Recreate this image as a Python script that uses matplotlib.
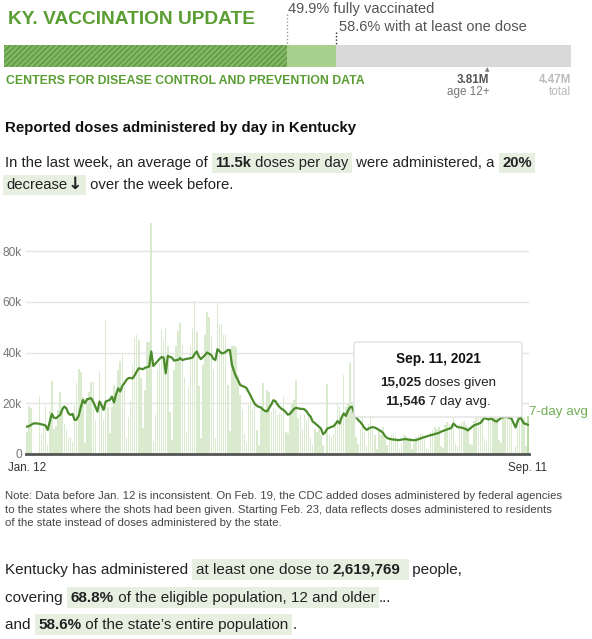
import matplotlib
matplotlib.use("Agg")
import matplotlib.pyplot as plt
from matplotlib.patches import Rectangle, FancyBboxPatch
from matplotlib.lines import Line2D
import numpy as np
import pandas as pd

# ---------------- data ----------------
start_date = "2021-01-12"
end_date = "2021-09-11"

daily_doses_k = [
    8.8, 19.0, 18.0, 0.4, 0.4, 0.4, 23.0, 8.0, 11.0, 19.0,
    3.5, 17.0, 28.8, 9.7, 11.0, 17.4, 24.6, 18.7, 12.0, 9.5,
    6.2, 6.8, 4.9, 19.3, 28.0, 33.4, 32.5, 22.6, 4.2, 22.0,
    24.6, 28.5, 28.5, 13.4, 0.3, 32.6, 20.7, 13.4, 53.0, 18.7,
    8.4, 18.7, 27.2, 24.0, 33.2, 36.8, 39.5, 26.6, 6.8, 14.5,
    20.7, 35.1, 45.7, 47.0, 45.0, 29.9, 10.1, 25.3, 44.3, 44.0,
    91.0, 4.9, 15.4, 33.0, 35.8, 48.7, 45.0, 49.6, 42.4, 16.7,
    5.5, 33.0, 42.4, 48.3, 51.6, 43.0, 29.9, 8.8, 26.0, 42.6,
    49.6, 60.5, 48.0, 26.8, 6.4, 35.0, 47.0, 56.0, 54.0, 46.6,
    33.0, 6.4, 59.5, 51.0, 51.2, 47.0, 47.4, 27.2, 9.2, 42.6,
    42.6, 42.0, 31.2, 23.3, 17.4, 7.9, 4.2, 19.3, 20.7, 17.4,
    19.3, 9.5, 3.5, 17.4, 27.9, 17.4, 25.3, 24.6, 16.7, 18.0,
    17.4, 15.4, 16.0, 15.8, 22.6, 8.8, 8.4, 17.4, 19.7, 21.3,
    29.2, 14.0, 15.3, 10.0, 15.9, 13.3, 15.9, 6.7, 3.4, 10.0,
    8.7, 10.0, 7.4, 3.4, 0.5, 27.4, 8.0, 6.7, 8.0, 12.0,
    20.5, 18.6, 15.3, 31.0, 18.6, 20.0, 35.7, 20.5, 15.9, 6.7,
    4.0, 10.0, 15.3, 8.7, 3.4, 12.0, 14.6, 10.0, 7.4, 2.1,
    10.0, 7.4, 10.7, 6.0, 3.4, 5.4, 7.4, 8.0, 7.0, 6.5,
    2.0, 4.0, 7.5, 7.0, 6.5, 6.5, 2.1, 4.5, 6.7, 7.5,
    8.0, 8.0, 7.0, 2.5, 2.1, 8.7, 9.5, 10.7, 10.0, 10.7,
    3.0, 2.5, 11.3, 12.6, 11.5, 12.0, 14.0, 4.0, 3.0, 12.0,
    12.5, 13.0, 11.5, 10.5, 4.0, 3.5, 13.0, 14.0, 14.5, 15.0,
    14.5, 6.0, 5.0, 15.5, 16.0, 15.0, 14.5, 14.0, 5.5, 4.5,
    17.0, 18.0, 17.0, 16.5, 15.5, 1.0, 3.0, 16.5, 17.0, 15.0,
    14.0, 3.0, 15.025,
]

seven_day_avg_k = [
    10.8, 11.0, 11.5, 12.0, 12.1, 12.0, 11.9, 11.7, 11.5, 11.2,
    9.5, 12.8, 15.8, 14.3, 14.1, 14.8, 15.4, 17.5, 18.7, 18.0,
    16.0, 15.4, 15.8, 13.4, 13.6, 15.2, 18.5, 21.3, 20.0, 21.6,
    21.8, 22.0, 20.5, 18.7, 16.7, 20.7, 19.2, 17.4, 20.7, 21.0,
    21.3, 22.6, 20.3, 23.5, 25.9, 24.6, 26.8, 27.9, 29.2, 29.9,
    30.0, 29.8, 31.0, 32.5, 33.8, 33.6, 33.4, 34.0, 34.2, 34.5,
    40.4, 34.7, 35.6, 36.5, 37.5, 38.2, 38.0, 31.8, 38.7, 38.3,
    38.0, 36.8, 37.0, 37.1, 37.8, 37.0, 37.3, 37.5, 37.6, 37.8,
    38.0, 39.5, 40.4, 38.5, 37.4, 38.2, 39.0, 40.0, 39.5, 39.0,
    37.5, 37.1, 41.3, 40.5, 39.7, 39.8, 40.3, 41.0, 41.0, 35.1,
    32.6, 30.5, 29.0, 27.2, 26.8, 26.5, 26.0, 24.5, 23.0, 21.3,
    19.8, 19.0, 18.6, 18.3, 17.5, 17.0, 16.8, 18.2, 19.5, 21.2,
    20.8, 19.5, 18.5, 17.8, 17.3, 16.5, 15.5, 15.8, 16.8, 17.8,
    18.2, 18.0, 17.8, 17.8, 17.6, 16.8, 15.6, 14.7, 12.8, 12.2,
    11.5, 10.8, 10.0, 7.8, 8.5, 10.0, 10.3, 10.7, 10.9, 11.8,
    13.0, 12.0, 14.5, 16.0, 15.0, 17.0, 18.4, 18.6, 16.3, 14.5,
    13.4, 12.6, 11.5, 10.3, 9.5, 10.0, 10.4, 10.6, 10.4, 10.0,
    9.5, 9.0, 8.3, 7.0, 6.3, 6.0, 5.8, 5.7, 5.6, 5.5,
    5.5, 5.7, 5.8, 5.9, 5.7, 5.6, 5.5, 5.4, 5.5, 5.8,
    6.1, 6.4, 6.7, 6.9, 7.2, 7.4, 7.6, 7.9, 8.1, 8.3,
    8.8, 9.1, 9.4, 9.7, 10.0, 10.3, 12.0, 11.2, 10.6, 10.5,
    10.4, 10.1, 9.8, 9.3, 10.0, 10.7, 11.3, 11.6, 11.9, 12.2,
    13.2, 14.3, 13.9, 13.6, 14.0, 13.6, 13.0, 12.8, 13.6, 14.2,
    14.5, 14.7, 14.5, 14.3, 14.0, 12.3, 10.5, 12.9, 14.7, 13.5,
    12.1, 11.8, 11.546,
]

y_ticks = [0, 20000, 40000, 60000, 80000]
y_tick_labels = ["0", "20k", "40k", "60k", "80k"]

fully_vaccinated_pct = 49.9
one_dose_pct = 58.6
age12_pop_m = 3.81
total_pop_m = 4.47

# ---------------- figure ----------------
W, H = 592, 639
fig = plt.figure(figsize=(W / 100, H / 100), dpi=100)
fig.patch.set_facecolor("white")
R = fig.canvas.get_renderer()

FAM = ["Liberation Sans", "DejaVu Sans"]
ARROW_FAM = ["DejaVu Sans"]
GREEN = "#5a9e33"


def fx(x):
    return x / W


def fy(y):
    return 1 - y / H


_cache = {}


def tw(s, size, weight, fam=FAM):
    key = (size, weight, tuple(fam))
    if key not in _cache:
        t = fig.text(0, 0, "||", fontsize=size, fontweight=weight, family=fam)
        _cache[key] = t.get_window_extent(R).width
        t.remove()
    t = fig.text(0, 0, "|" + s + "|", fontsize=size, fontweight=weight, family=fam)
    w = t.get_window_extent(R).width
    t.remove()
    return w - _cache[key]


def _box(x0, x1, y, spx, hl, hl_h):
    fig.add_artist(Rectangle((fx(x0), fy(y + hl_h[1] * spx)), (x1 - x0) / W,
                             (hl_h[0] + hl_h[1]) * spx / H, transform=fig.transFigure,
                             facecolor=hl, edgecolor="none", zorder=1))


def runs(x, y, parts, size, color="#222", hl="#e7f0e0", pad=3.5, hl_h=(0.95, 0.42)):
    """parts: list of (text, bold, highlighted[, family, size]); y is baseline px from top."""
    cx = x
    prev_h = False
    box_start = None
    spx = size * 100 / 72
    for p in parts:
        s, b, h = p[:3]
        fam = p[3] if len(p) > 3 else FAM
        sz = p[4] if len(p) > 4 else size
        wgt = "bold" if b else "normal"
        w = tw(s, sz, wgt, fam)
        if h and not prev_h:
            box_start = cx
            cx += pad
        if not h and prev_h:
            cx += pad
            _box(box_start, cx, y, spx, hl, hl_h)
        fig.text(fx(cx), fy(y), s, fontsize=sz, fontweight=wgt, family=fam, color=color,
                 ha="left", va="baseline", zorder=3)
        cx += w
        prev_h = h
    if prev_h:
        cx += pad
        _box(box_start, cx, y, spx, hl, hl_h)


# ---------------- header ----------------
fig.text(fx(8), fy(20), "KY. VACCINATION UPDATE", fontsize=13.8, fontweight="bold",
         family=FAM, color=GREEN, ha="left", va="center")

bar_x0, bar_x1, bar_y0, bar_y1 = 4, 571, 45, 67
bw = bar_x1 - bar_x0
full_x = bar_x0 + bw * fully_vaccinated_pct / 100
one_x = bar_x0 + bw * one_dose_pct / 100
age_x = bar_x0 + bw * age12_pop_m / total_pop_m

plt.rcParams["hatch.linewidth"] = 1.0
fig.add_artist(Rectangle((fx(bar_x0), fy(bar_y1)), bw / W, (bar_y1 - bar_y0) / H,
                         transform=fig.transFigure, facecolor="#d9d9d9", edgecolor="none"))
fig.add_artist(Rectangle((fx(bar_x0), fy(bar_y1)), (one_x - bar_x0) / W, (bar_y1 - bar_y0) / H,
                         transform=fig.transFigure, facecolor="#a8d08d", edgecolor="none"))
fig.add_artist(Rectangle((fx(bar_x0), fy(bar_y1)), (full_x - bar_x0) / W, (bar_y1 - bar_y0) / H,
                         transform=fig.transFigure, facecolor="#82b764", edgecolor="#5e9844",
                         hatch="//////", linewidth=0))

fig.add_artist(Line2D([fx(full_x), fx(full_x)], [fy(14), fy(bar_y0)], transform=fig.transFigure,
                      color="#999999", lw=1, linestyle=(0, (1, 1.5))))
fig.add_artist(Line2D([fx(one_x), fx(one_x)], [fy(32), fy(bar_y0)], transform=fig.transFigure,
                      color="#222222", lw=1, linestyle=(0, (1, 1.5))))

fig.text(fx(full_x + 1), fy(9), f"{fully_vaccinated_pct}% fully vaccinated", fontsize=10.5,
         family=FAM, color="#555555", ha="left", va="center")
fig.text(fx(one_x + 3), fy(27), f"{one_dose_pct}% with at least one dose", fontsize=10.5,
         family=FAM, color="#555555", ha="left", va="center")

fig.text(fx(6), fy(81), "CENTERS FOR DISEASE CONTROL AND PREVENTION DATA", fontsize=8.8,
         fontweight="bold", family=FAM, color=GREEN, ha="left", va="center")

fig.text(fx(age_x), fy(70), "▲", fontsize=4.2, family=["DejaVu Sans"], color="#777777",
         ha="center", va="center")
fig.text(fx(age_x + 2), fy(80), f"{age12_pop_m}M", fontsize=8.4, fontweight="bold",
         family=FAM, color="#555555", ha="right", va="center")
fig.text(fx(age_x + 2), fy(92), "age 12+", fontsize=8.4, family=FAM, color="#777777",
         ha="right", va="center")
fig.text(fx(bar_x1), fy(80), f"{total_pop_m}M", fontsize=8.4, fontweight="bold",
         family=FAM, color="#bbbbbb", ha="right", va="center")
fig.text(fx(bar_x1), fy(92), "total", fontsize=8.4, family=FAM, color="#bbbbbb",
         ha="right", va="center")

# ---------------- heading + paragraph ----------------
fig.text(fx(5), fy(128), "Reported doses administered by day in Kentucky", fontsize=10.8,
         fontweight="bold", family=FAM, color="#111111", ha="left", va="center")

runs(5, 167, [("In the last week, an average of ", False, False),
              ("11.5k", True, True), (" doses per day", False, True),
              (" were administered, a ", False, False), ("20%", True, True)], 10.7)
runs(3, 189, [("decrease", False, True), ("\u2193", True, True, ARROW_FAM, 12.5),
              (" over the week before.", False, False)], 10.7)

# ---------------- chart ----------------
dates = pd.date_range(start_date, end_date, freq="D")
idx = np.arange(len(dates))
daily = np.array(daily_doses_k) * 1000
avg = np.array(seven_day_avg_k) * 1000

ax = fig.add_axes([fx(26), fy(454), 503 / W, 241 / H])
ax.set_xlim(-0.5, len(dates) - 0.5)
ax.set_ylim(0, 95000)
colors = ["#d9eacf"] * len(idx)
colors[-1] = "#b9dba4"
ax.bar(idx, daily, width=0.72, color=colors, linewidth=0, zorder=2)
ax.plot(idx, avg, color="#4b8b2b", lw=1.6, zorder=3, solid_joinstyle="round")

ax.set_yticks(y_ticks)
ax.set_yticklabels(y_tick_labels)
ax.yaxis.grid(True, color="#e4e4e4", lw=1)
ax.set_axisbelow(True)
for s in ["top", "right", "left"]:
    ax.spines[s].set_visible(False)
ax.spines["bottom"].set_color("#555555")
ax.spines["bottom"].set_linewidth(2)
ax.spines["bottom"].set_zorder(4)
ax.tick_params(axis="y", length=0, pad=3, labelsize=8.6, labelcolor="#777777")
ax.set_xticks([0, len(dates) - 1])
ax.set_xticklabels([dates[0].strftime("%b. %-d"), dates[-1].strftime("%b. %-d")])
ax.tick_params(axis="x", length=0, pad=6, labelsize=8.4, labelcolor="#333333")
for lab in ax.get_xticklabels() + ax.get_yticklabels():
    lab.set_family(FAM)

ax.text(len(dates) - 0.3, avg[-1] + 5000, "7-day avg", fontsize=9.6, family=FAM,
        color="#72ae55", ha="left", va="center", clip_on=False)

# tooltip
tb = FancyBboxPatch((fx(354), fy(417)), 168 / W, 75 / H,
                    boxstyle="round,pad=0,rounding_size=0.005", transform=fig.transFigure,
                    facecolor="white", edgecolor="#e2e2e2", lw=1, zorder=5)
fig.add_artist(tb)
fig.text(fx(438), fy(359), dates[-1].strftime("%b. %-d, %Y"), fontsize=9.8, fontweight="bold",
         family=FAM, color="#111111", ha="center", va="center", zorder=6)


def runs_center(xc, y, parts, size):
    ws = [tw(s, size, "bold" if b else "normal") for s, b in parts]
    x = xc - sum(ws) / 2
    for (s, b), w in zip(parts, ws):
        fig.text(fx(x), fy(y), s, fontsize=size, fontweight="bold" if b else "normal",
                 family=FAM, color="#222222", ha="left", va="baseline", zorder=6)
        x += w


runs_center(438, 386, [(f"{int(round(daily[-1])):,}", True), (" doses given", False)], 9.6)
runs_center(438, 405, [(f"{int(round(avg[-1])):,}", True), (" 7 day avg.", False)], 9.6)

# ---------------- note ----------------
note_lines = [
    "Note: Data before Jan. 12 is inconsistent. On Feb. 19, the CDC added doses administered by federal agencies",
    "to the states where the shots had been given. Starting Feb. 23, data reflects doses administered to residents",
    "of the state instead of doses administered by the state.",
]
for i, line in enumerate(note_lines):
    fig.text(fx(5), fy(496 + i * 13.6), line, fontsize=8.2, family=FAM, color="#444444",
             ha="left", va="center")

# ---------------- bottom summary ----------------
runs(5, 574, [("Kentucky has administered ", False, False),
              ("at least one dose to ", False, True), ("2,619,769", True, True), (" ", False, True),
              (" people,", False, False)], 11.0)
runs(5, 602, [("covering ", False, False),
              ("68.8%", True, True), (" of the eligible population, 12 and older", False, True),
              ("...", False, False)], 11.0)
runs(5, 629, [("and ", False, False),
              ("58.6%", True, True), (" of the state\u2019s entire population", False, True),
              (".", False, False)], 11.0)

fig.savefig("out.png", dpi=100, facecolor="white")
